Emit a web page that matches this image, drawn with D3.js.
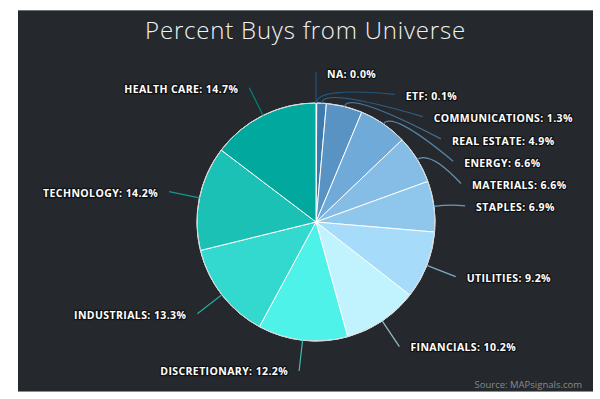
<!DOCTYPE html>
<html>
<head>
<meta charset="utf-8">
<script src="https://cdn.jsdelivr.net/npm/d3@7"></script>
<style>
  body { margin: 0; background: #fff; }
  svg { display: block; }
</style>
</head>
<body>
<div id="chart"></div>
<script>
// data
const categories = ['NA', 'ETF', 'COMMUNICATIONS', 'REAL ESTATE', 'ENERGY', 'MATERIALS', 'STAPLES',
  'UTILITIES', 'FINANCIALS', 'DISCRETIONARY', 'INDUSTRIALS', 'TECHNOLOGY', 'HEALTH CARE'];
const percents = [0.0, 0.1, 1.3, 4.9, 6.6, 6.6, 6.9, 9.2, 10.2, 12.2, 13.3, 14.2, 14.7];
const palette = ['#2a6a9c', '#2f6ea0', '#3e7aab', '#5893c4', '#6faad8', '#86bde6', '#8ec6ec',
  '#a7dbfa', '#c0f3fd', '#4ff2e8', '#33d9cf', '#1cc1b6', '#00a89d'];

const width = 600, height = 399;
const panel = { x: 18, y: 10, w: 575, h: 382 };
const cx = 316, cy = 222, radius = 119, lineR = 150, gap = 11, step = 22.3;

const svg = d3.select('#chart')
  .append('svg')
  .attr('width', width)
  .attr('height', height);

svg.append('rect')
  .attr('x', panel.x).attr('y', panel.y)
  .attr('width', panel.w).attr('height', panel.h)
  .attr('fill', '#25292d');
svg.append('line')
  .attr('x1', panel.x).attr('x2', panel.x + panel.w)
  .attr('y1', panel.y + 0.5).attr('y2', panel.y + 0.5)
  .attr('stroke', '#6b6e71');
svg.append('line')
  .attr('x1', panel.x).attr('x2', panel.x + panel.w)
  .attr('y1', panel.y + panel.h - 0.5).attr('y2', panel.y + panel.h - 0.5)
  .attr('stroke', '#8a8d90');

svg.append('text')
  .attr('x', (panel.x * 2 + panel.w) / 2)
  .attr('y', 39)
  .attr('text-anchor', 'middle')
  .attr('fill', '#f2f2f2')
  .style('font-family', '"Open Sans", sans-serif')
  .style('font-weight', 300)
  .style('font-size', '24px')
  .style('letter-spacing', '0.8px')
  .text('Percent Buys from Universe');

svg.append('text')
  .attr('x', 582)
  .attr('y', 388)
  .attr('text-anchor', 'end')
  .attr('fill', '#85898d')
  .style('font-family', '"Open Sans", sans-serif')
  .style('font-size', '9.5px')
  .text('Source: MAPsignals.com');

const color = d3.scaleOrdinal().domain(categories).range(palette);

const pie = d3.pie().sort(null).value(d => d.value);
const arcs = pie(categories.map((c, i) => ({ name: c, value: percents[i] })));
const arc = d3.arc().innerRadius(0).outerRadius(radius);

const g = svg.append('g').attr('transform', `translate(${cx},${cy})`);

g.selectAll('path.slice')
  .data(arcs)
  .join('path')
  .attr('class', 'slice')
  .attr('d', arc)
  .attr('fill', d => color(d.data.name))
  .attr('stroke', '#ffffff')
  .attr('stroke-width', 1);

g.append('circle')
  .attr('r', radius)
  .attr('fill', 'none')
  .attr('stroke', '#d4d6d8')
  .attr('stroke-width', 1);

// label layout: natural spot on circle, then stack the crowded right side downward
const polar = (r, a) => [r * Math.sin(a), -r * Math.cos(a)];
const labels = arcs.map(d => {
  const a = (d.startAngle + d.endAngle) / 2;
  const [x, y] = polar(lineR, a);
  return { d, a, x, y, right: Math.sin(a) >= 0 };
});
let prev = null;
labels.filter(l => l.right).forEach(l => {
  if (prev && l.y < prev.y + step) {
    l.y = prev.y + step;
    l.x = Math.sqrt(Math.max(0, lineR * lineR - l.y * l.y));
  }
  prev = l;
});

g.selectAll('path.leader')
  .data(labels)
  .join('path')
  .attr('class', 'leader')
  .attr('fill', 'none')
  .attr('stroke', l => d3.color(color(l.d.data.name)).darker(0.7))
  .attr('stroke-width', 1.2)
  .attr('d', l => {
    const p0 = polar(radius, l.a);
    const p1 = polar(radius + 16, l.a);
    return `M${p0[0]},${p0[1]}Q${p1[0]},${p1[1]} ${l.x},${l.y}`;
  });

g.selectAll('text.label')
  .data(labels)
  .join('text')
  .attr('class', 'label')
  .attr('x', l => l.right ? l.x + gap : l.x - gap)
  .attr('y', l => l.y + (l.y > 100 ? 0.5 : 2))
  .attr('dy', '0.35em')
  .attr('text-anchor', l => l.right ? 'start' : 'end')
  .attr('fill', '#ffffff')
  .attr('stroke', '#111315')
  .attr('stroke-width', 2.6)
  .attr('stroke-linejoin', 'round')
  .attr('paint-order', 'stroke')
  .style('font-family', '"Open Sans", sans-serif')
  .style('font-weight', 700)
  .style('font-size', '10.5px')
  .style('letter-spacing', '0.4px')
  .text(l => `${l.d.data.name}: ${l.d.data.value.toFixed(1)}%`);
</script>
</body>
</html>
